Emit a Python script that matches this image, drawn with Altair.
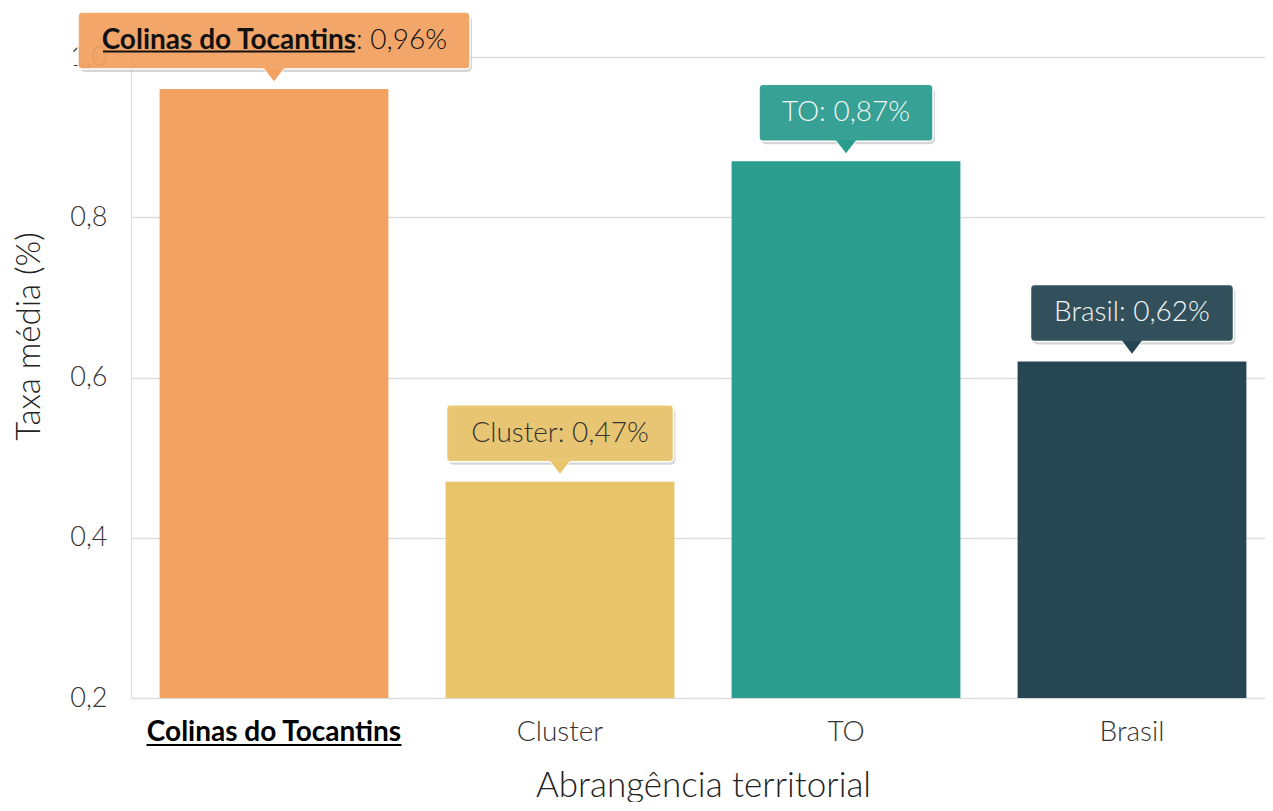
import altair as alt
import pandas as pd

categories = ["Colinas do Tocantins", "Cluster", "TO", "Brasil"]
values = [0.96, 0.47, 0.87, 0.62]
bar_colors = ["#F4A261", "#E9C46A", "#2A9D8F", "#264653"]
text_colors = ["#111111", "#333333", "#F5F5F5", "#F5F5F5"]
highlight = "Colinas do Tocantins"

# tooltip box widths (style)
BOX_W = {"Colinas do Tocantins": 392, "Cluster": 227, "TO": 174, "Brasil": 203}

df = pd.DataFrame({"cat": categories, "value": values})
df["valstr"] = [f"{v:.2f}".replace(".", ",") + "%" for v in values]
df["label"] = [f"{c}: {s}" for c, s in zip(categories, df["valstr"])]
df["boxw"] = [BOX_W[c] for c in categories]
df["tcolor"] = text_colors
df["sep"] = ": " + df["valstr"]

W, H = 1134, 641
FONT = "'Lato Light', Lato"
BOLD = "Lato"

xscale = alt.Scale(paddingInner=0.2, paddingOuter=0.1, range=[0, 1144])
xenc = alt.X("cat:N", sort=categories, scale=xscale,
             axis=alt.Axis(title="Abrangência territorial", labelAngle=0,
                           labelFontSize=28, titleFontSize=35, titleFontWeight=300,
                           labelFont={"condition": {"test": f"datum.value == '{highlight}'", "value": BOLD}, "value": FONT},
                           titleFont=FONT, labelLimit=0,
                           labelFontWeight={"condition": {"test": f"datum.value == '{highlight}'", "value": "bold"}, "value": 300},
                           labelColor={"condition": {"test": f"datum.value == '{highlight}'", "value": "#000000"}, "value": "#333333"},
                           titleColor="#222222",
                           ticks=False, domain=False, labelPadding=20, titlePadding=22))
yscale = alt.Scale(domain=[0.2, 1.0], nice=False, zero=False)
yenc = alt.Y("value:Q", scale=yscale,
             axis=alt.Axis(title="Taxa média (%)", values=[0.2, 0.4, 0.6, 0.8, 1.0],
                           labelExpr="replace(format(datum.value, '.1f'), '.', ',')",
                           labelFontSize=27, titleFontSize=33, titleFontWeight=300,
                           labelFont=FONT, titleFont=FONT, labelFontWeight=300,
                           labelColor="#333333", titleColor="#222222",
                           titleX=-102, titleY=279, titleAlign="center", titleBaseline="middle",
                           titleAngle=270,
                           ticks=False, domain=False, labelPadding=24,
                           gridColor="#DDDDDD", gridWidth=1.5))
color = alt.Color("cat:N", scale=alt.Scale(domain=categories, range=bar_colors), legend=None)

xs = alt.X("cat:N", sort=categories, scale=xscale)
base = alt.Chart(df)

bars = base.mark_bar().encode(x=xenc, y=yenc, y2=alt.datum(0.2), color=color)

ybox = alt.Y("value:Q", scale=yscale)
shadow = base.mark_bar(color="#000000", opacity=0.16, cornerRadius=5,
                       yOffset=-74, y2Offset=-17, xOffset=2).encode(
    x=xs, y=ybox, y2="value:Q", size=alt.Size("boxw:Q", scale=None))
tri_path = "M-1,-0.65L1,-0.65L0,0.65Z"
tri_stroke = base.mark_point(shape=tri_path, filled=True, size=440, stroke="white",
                             strokeWidth=1.5, strokeOpacity=1, opacity=1, yOffset=-14.5).encode(
    x=xs, y=ybox, color=color)
box = base.mark_bar(cornerRadius=4, stroke="white", strokeWidth=1.5,
                    yOffset=-77, y2Offset=-20, fillOpacity=0.93).encode(
    x=xs, y=ybox, y2="value:Q", color=color, size=alt.Size("boxw:Q", scale=None))
tri_fill = base.mark_point(shape=tri_path, filled=True, size=420, strokeWidth=0,
                           opacity=1, yOffset=-14.5).encode(x=xs, y=ybox, color=color)

txt = base.transform_filter(f"datum.cat != '{highlight}'").mark_text(
    font=FONT, fontSize=28, fontWeight=300, baseline="middle", align="center", yOffset=-48).encode(
    x=xs, y=ybox, text="label:N", color=alt.Color("tcolor:N", scale=None))

hl = base.transform_filter(f"datum.cat == '{highlight}'")
hl_name = hl.mark_text(font=BOLD, fontSize=28, fontWeight="bold", baseline="middle",
                       align="right", yOffset=-48, xOffset=82, color="#111111").encode(
    x=xs, y=ybox, text="cat:N")
hl_val = hl.mark_text(font=FONT, fontSize=28, fontWeight=300, baseline="middle",
                      align="left", yOffset=-48, xOffset=82, color="#111111").encode(
    x=xs, y=ybox, text="sep:N")
hl_ul = hl.mark_bar(color="#111111", yOffset=-38.5, y2Offset=-36.5, xOffset=-45).encode(
    x=xs, y=ybox, y2="value:Q", size=alt.value(252))
ax_ul = hl.mark_bar(color="#000000").encode(
    x=xs, y=alt.value(H + 46), y2=alt.value(H + 48), size=alt.value(255))

chart = alt.layer(bars, shadow, tri_stroke, box, tri_fill, txt, hl_name, hl_val, hl_ul, ax_ul).properties(
    width=W, height=H,
    autosize=alt.AutoSizeParams(type="none"),
    padding={"left": 123, "top": 49, "right": 0, "bottom": 104},
).configure_view(stroke=None).configure(font=FONT)

chart.save("out.html", embed_options={"renderer": "svg", "actions": False})
